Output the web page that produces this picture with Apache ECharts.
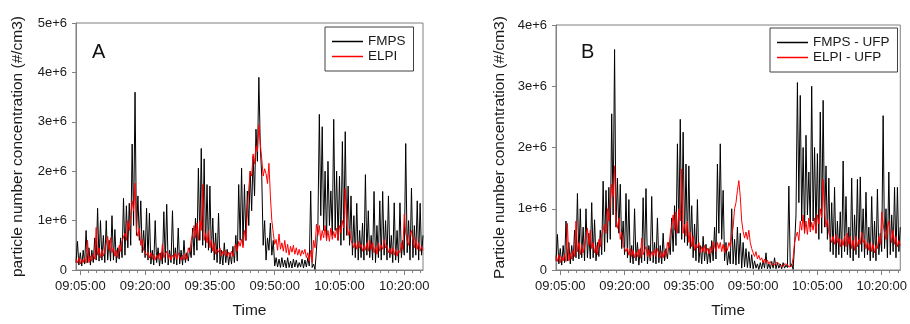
<!DOCTYPE html>
<html><head><meta charset="utf-8">
<script src="https://cdn.jsdelivr.net/npm/echarts@6/dist/echarts.min.js"></script>
<style>html,body{margin:0;padding:0;background:#fff}#c{width:910px;height:324px}</style>
</head><body><div id="c"></div><script>
// Values in units of 1e4 #/cm3, one sample every 20 s starting 09:04:00 (3 per minute)
const UNIT = 1e4;
const fmpsA = [
 15,58,10, 35,8,40, 12,80,15, 45,10,40, 15,65,20, 125,18,100, 20,70,15, 100,20,60, 18,110,20, 82,15,45,
 22,65,25, 145,30,130, 45,135,50, 255,90,360, 70,150,60, 140,35,80, 25,125,20, 115,12,40, 10,100,15, 45,8,35,
 12,118,15, 133,10,40, 15,120,12, 45,10,85, 12,40,10, 60,15,35, 18,45,25, 85,30,105, 40,206,60, 246,50,225,
 45,173,40, 170,35,105, 20,75,15, 115,12,40, 10,55,15, 42,10,35, 12,48,15, 70,18,173, 60,206,50, 173,60,160,
 90,200,120, 230,150,285, 220,390,250, 190,50,100, 20,65,40, 95,30,60, 8,25,6, 22,5,25, 6,20,4, 25,5,18,
 4,22,6, 20,5,15, 6,22,4, 20,6,25, 8,160,5, 12,1,40, 90,315,110, 290,80,200, 60,220,90, 160,70,305,
 80,200,60, 190,50,260, 60,280,70, 170,50,150, 30,110,25, 135,20,80, 25,95,20, 193,30,120, 25,70,20, 159,15,90,
 25,140,20, 159,30,100, 20,150,25, 70,15,136, 20,80,15, 136,25,60, 30,256,35, 100,20,166, 25,90,30, 140,20,135,
 30,70
];
const elpiA = [
 22,14,25, 12,22,15, 25,14,60, 15,28,18, 32,22,86, 30,45,25, 42,28,38, 55,68,40, 65,35,45, 28,40,25,
 50,38,58, 55,75,60, 100,80,110, 140,120,176, 80,68,85, 50,62,40, 42,30,36, 24,35,22, 32,20,30, 22,34,20,
 52,25,32, 38,22,33, 20,30,24, 34,22,35, 26,20,30, 20,32,22, 45,35,60, 72,90,65, 95,60,100, 80,173,60,
 75,55,80, 45,62,38, 55,32,42, 36,45,28, 38,30,40, 28,36,26, 38,28,46, 52,38,58, 48,62,45, 80,60,120,
 165,200,190, 235,215,250, 240,294,255, 225,190,205, 195,175,216, 150,100,75, 52,62,40, 73,42,55, 38,60,35, 52,30,48,
 36,50,32, 45,30,42, 28,40,32, 42,25,35, 18,40,15, 60,45,93, 70,90,60, 80,65,90, 60,80,58, 85,62,78,
 65,85,60, 90,75,100, 85,165,95, 70,82,60, 60,45,55, 42,58,45, 52,38,50, 40,55,38, 60,42,55, 35,48,32,
 55,38,50, 42,62,45, 50,35,45, 32,45,30, 42,28,40, 35,55,42, 113,75,60, 50,70,80, 58,45,65, 42,55,38,
 48,40
];
const fmpsB = [
 15,58,10, 35,8,40, 12,80,15, 45,10,40, 15,65,20, 125,18,100, 20,70,15, 100,20,60, 18,110,20, 82,15,45,
 22,65,25, 145,30,130, 45,135,50, 255,90,360, 70,150,60, 140,35,80, 25,125,20, 115,12,40, 10,100,15, 45,8,35,
 12,118,15, 133,10,40, 15,120,12, 45,10,85, 12,40,10, 60,15,35, 18,45,25, 85,30,105, 40,206,60, 246,50,225,
 45,173,40, 170,35,105, 20,75,15, 115,12,40, 10,55,15, 42,10,35, 12,48,15, 70,18,173, 60,206,50, 130,15,45,
 8,30,10, 100,10,50, 8,70,10, 60,3,45, 5,35,4, 30,3,25, 2,15,3, 10,1,12, 2,15,3, 28,2,10,
 2,14,3, 20,2,12, 3,10,2, 12,3,8, 4,137,5, 10,1,40, 90,306,110, 285,80,200, 60,220,90, 160,70,300,
 80,200,60, 190,50,258, 60,277,70, 170,50,150, 30,110,25, 135,20,80, 25,95,20, 178,30,120, 25,70,20, 150,15,90,
 25,148,20, 152,30,100, 20,127,25, 70,15,120, 20,80,15, 132,25,60, 30,252,35, 100,20,160, 25,90,30, 135,20,135,
 30,70
];
const elpiB = [
 22,14,25, 12,22,15, 25,14,76, 15,28,18, 32,22,80, 30,45,25, 42,28,38, 55,68,40, 65,35,45, 28,40,25,
 50,38,58, 55,75,60, 100,80,110, 140,120,170, 80,68,85, 50,62,40, 42,30,36, 24,35,22, 32,20,30, 22,34,20,
 52,25,32, 38,22,33, 20,30,24, 34,22,35, 26,20,30, 20,32,22, 45,35,60, 72,90,65, 95,60,100, 80,165,60,
 75,55,80, 45,62,38, 55,32,42, 36,45,28, 38,30,40, 28,36,26, 38,28,46, 40,30,45, 35,45,30, 42,28,40,
 32,45,38, 55,70,100, 110,130,146, 120,80,63, 52,62,50, 65,45,35, 28,22,30, 18,24,16, 20,12,18, 11,16,10,
 14,9,12, 8,12,9, 11,7,10, 6,10,7, 9,5,8, 6,20,45, 55,62,48, 80,65,90, 60,80,58, 85,62,78,
 65,85,60, 90,75,100, 85,148,95, 70,82,60, 60,45,55, 42,58,45, 52,38,50, 40,55,38, 60,42,55, 35,48,32,
 55,38,50, 42,62,45, 50,35,45, 32,45,30, 42,28,40, 35,55,42, 95,75,60, 50,70,80, 58,45,65, 42,55,38,
 48,40
];
const tickLabels = ['09:05:00','09:20:00','09:35:00','09:50:00','10:05:00','10:20:00'];
const START_SEC = 9*3600 + 4*60, STEP = 20;
const pad = n => String(n).padStart(2,'0');
const fmt = s => pad(Math.floor(s/3600)) + ':' + pad(Math.floor(s/60)%60) + ':' + pad(s%60);
const times = fmpsA.map((_, i) => fmt(START_SEC + i*STEP));
// minor tick slots every 2.5 s; minor ticks every 112.5 s starting 09:05:00
const MINOR_RES = 2.5;
const minorSlots = Array.from({length: Math.round((times.length-1)*STEP/MINOR_RES)+1}, (_, i) => i);
const MINOR_OFF = 60/MINOR_RES, MINOR_EVERY = 112.5/MINOR_RES;

const FONT = '"Liberation Sans", Arial, sans-serif';
const AX = '#808080', TXT = '#1a1a1a';

function mainX(g, gap) {
  return {type:'category', gridIndex:g, data:times, boundaryGap:false, position:'bottom',
    axisLine:{lineStyle:{color:AX, width:1}},
    axisTick:{show:true, length:5, interval:(i,v)=>tickLabels.includes(v), lineStyle:{color:AX}},
    axisLabel:{interval:(i,v)=>tickLabels.includes(v), fontSize:13, color:TXT, margin:10, fontFamily:FONT},
    splitLine:{show:false},
    name:'Time', nameLocation:'middle', nameGap:gap,
    nameTextStyle:{fontSize:15.5, color:TXT, fontFamily:FONT}};
}
function minorX(g) {
  return {type:'category', gridIndex:g, data:minorSlots, boundaryGap:false, position:'bottom',
    axisLine:{show:false}, axisLabel:{show:false}, splitLine:{show:false},
    axisTick:{show:true, length:3, interval:(i)=>(((i-MINOR_OFF)%MINOR_EVERY)+MINOR_EVERY)%MINOR_EVERY===0, lineStyle:{color:AX}}};
}
function yAx(g, max, name, gap) {
  return {type:'value', gridIndex:g, min:0, max:max, interval:1e6,
    axisLine:{show:true, lineStyle:{color:AX}},
    axisTick:{show:true, length:4, lineStyle:{color:AX}},
    splitLine:{show:false},
    axisLabel:{fontSize:13, color:TXT, margin:9, fontFamily:FONT,
      formatter:v => v===0 ? '0' : (v/1e6)+'e+6'},
    name:name, nameLocation:'middle', nameGap:gap,
    nameTextStyle:{fontSize:15.5, color:TXT, fontFamily:FONT}};
}
function line(name, data, xi, yi, color) {
  return {type:'line', name:name, xAxisIndex:xi, yAxisIndex:yi, data:data.map(v=>v*UNIT),
    showSymbol:false, symbol:'none', lineStyle:{color:color, width:1}, itemStyle:{color:color},
    emphasis:{disabled:true}, animation:false};
}
function legend(items, left, top) {
  return {data:items, orient:'vertical', left:left, top:top, padding:[7,8,7,7], itemGap:0,
    itemWidth:31, itemHeight:1.5, icon:'rect', borderColor:'#404040', borderWidth:1,
    textStyle:{fontSize:13.5, color:TXT, lineHeight:15, fontFamily:FONT}, selectedMode:false};
}

const chart = echarts.init(document.getElementById('c'), null, {renderer:'canvas'});
chart.setOption({
  animation:false,
  textStyle:{fontFamily:FONT},
  grid:[
    {left:76, right:487, top:23, bottom:51, show:true, borderColor:AX, borderWidth:1, containLabel:false},
    {left:556, right:7, top:25, bottom:50, show:true, borderColor:AX, borderWidth:1, containLabel:false}
  ],
  xAxis:[mainX(0,33), minorX(0), mainX(1,33), minorX(1)],
  yAxis:[yAx(0,5e6,'particle number concentration (#/cm3)',50), yAx(1,4e6,'Particle number concentration (#/cm3)',48)],
  legend:[legend(['FMPS','ELPI'],325,27), legend(['FMPS - UFP','ELPI - UFP'],770,28)],
  series:[
    line('FMPS', fmpsA, 0, 0, '#000000'),
    line('ELPI', elpiA, 0, 0, '#ff0000'),
    line('FMPS - UFP', fmpsB, 2, 1, '#000000'),
    line('ELPI - UFP', elpiB, 2, 1, '#ff0000')
  ],
  graphic:[
    {type:'text', x:92, y:52, style:{text:'A', fontSize:20, fill:'#111', fontFamily:FONT, verticalAlign:'middle'}},
    {type:'text', x:581, y:52, style:{text:'B', fontSize:20, fill:'#111', fontFamily:FONT, verticalAlign:'middle'}}
  ]
});
</script></body></html>
